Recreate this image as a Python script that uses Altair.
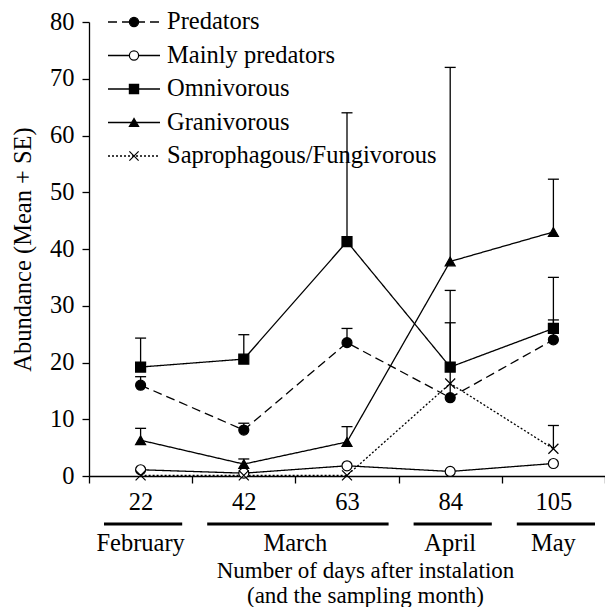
import json
import altair as alt
import pandas as pd

# ---------------- data ----------------
days = ["22", "42", "63", "84", "105"]
groups = ["Predators", "Mainly predators", "Omnivorous", "Granivorous",
          "Saprophagous/Fungivorous"]

predators = [16.0, 8.1, 23.5, 13.8, 24.0]
predators_top = [17.5, 9.3, 26.0, 27.0, 27.5]
mainly = [1.1, 0.5, 1.8, 0.8, 2.2]
mainly_top = [None, None, None, None, None]
omni = [19.2, 20.6, 41.3, 19.2, 26.0]
omni_top = [24.3, 24.9, 64.0, 32.7, 35.0]
grani = [6.3, 2.1, 6.0, 37.8, 43.0]
grani_top = [8.4, 3.0, 8.7, 72.0, 52.3]
sapro = [0.1, 0.1, 0.1, 16.3, 4.8]
sapro_top = [None, None, None, None, 8.9]

months = ["February", "March", "April", "May"]
month_first = ["22", "42", "84", "105"]
month_last = ["22", "63", "84", "105"]

y_ticks = [0, 10, 20, 30, 40, 50, 60, 70, 80]
x_title = ["Number of days after instalation", "(and the sampling month)"]
y_title = "Abundance (Mean + SE)"

# ---------------- tables ----------------
series = [predators, mainly, omni, grani, sapro]
tops = [predators_top, mainly_top, omni_top, grani_top, sapro_top]
rows, err_rows = [], []
for g, vals, tp in zip(groups, series, tops):
    for i, d in enumerate(days):
        rows.append({"group": g, "day": d, "idx": i + 1, "value": vals[i]})
        if tp[i] is not None:
            err_rows.append({"group": g, "idx": i + 1, "value": vals[i], "top": tp[i]})
df = pd.DataFrame(rows)
err = pd.DataFrame(err_rows)
leg = pd.DataFrame({"group": groups})
mon = pd.DataFrame({
    "month": months,
    "start": [days.index(a) + 0.5 for a in month_first],
    "end": [days.index(b) + 1.5 for b in month_last],
})
mon["mid"] = (mon["start"] + mon["end"]) / 2

# ---------------- style ----------------
FONT = "Liberation Serif, Times New Roman, DejaVu Serif, serif"
FS = 24.5
W, H = 516, 454
LW = 1.3

dash_scale = alt.Scale(domain=groups, range=[[9, 5], [1, 0], [1, 0], [1, 0], [2, 2]])
shape_scale = alt.Scale(domain=groups, range=["circle", "circle", "square", "triangle-up",
                                              "M-1,-1L1,1M-1,1L1,-1"])
fill_scale = alt.Scale(domain=groups, range=["black", "white", "black", "black", "black"])

xscale = alt.Scale(domain=[0.5, 5.5], nice=False, zero=False)
yscale = alt.Scale(domain=[0, 80], nice=False, zero=True)

label_expr = "(" + json.dumps(days) + ")[round(datum.value - 0.5)] || ''"

x_axis = alt.Axis(values=[0.5, 1.5, 2.5, 3.5, 4.5, 5.5], labelExpr=label_expr,
                  labelOffset=W / 10, labelFlush=False, labelOverlap=False,
                  tickSize=7, labelPadding=7, title=x_title,
                  titleX=276, titleY=101, titleBaseline="alphabetic",
                  titleFontSize=23, titleLineHeight=25, titleAnchor="middle")
y_axis = alt.Axis(values=y_ticks, tickSize=7, labelPadding=8, title=y_title,
                  titlePadding=14)


def X(field):
    return alt.X(field, scale=xscale, axis=x_axis)


err_rule = alt.Chart(err).mark_rule(color="black", strokeWidth=LW).encode(
    x=X("idx:Q"), y=alt.Y("value:Q", scale=yscale, axis=y_axis), y2="top:Q")
err_cap = alt.Chart(err).mark_tick(color="black", orient="horizontal", size=11,
                                   thickness=LW, opacity=1).encode(
    x=X("idx:Q"), y=alt.Y("top:Q", scale=yscale, axis=None))
lines = alt.Chart(df).mark_line(color="black", strokeWidth=LW).encode(
    x=X("idx:Q"), y=alt.Y("value:Q", scale=yscale, axis=None),
    detail="group:N",
    strokeDash=alt.StrokeDash("group:N", scale=dash_scale, legend=None))
points = alt.Chart(df).mark_point(filled=True, stroke="black", strokeWidth=1.2,
                                  opacity=1, size=100).encode(
    x=X("idx:Q"), y=alt.Y("value:Q", scale=yscale, axis=None),
    shape=alt.Shape("group:N", scale=shape_scale, legend=None),
    fill=alt.Fill("group:N", scale=fill_scale, legend=None))

# month labels under the axis
mon_rule = alt.Chart(mon).mark_rule(color="black", strokeWidth=3, xOffset=15,
                                    x2Offset=-10).encode(
    x=X("start:Q"), x2="end:Q", y=alt.value(502))
mon_text = alt.Chart(mon).mark_text(font=FONT, fontSize=FS, color="black",
                                    baseline="alphabetic").encode(
    x=X("mid:Q"), y=alt.value(529), text="month:N")

# legend
ly = alt.Y("group:N", sort=groups, axis=None,
           scale=alt.Scale(type="point", domain=groups, range=[0, 134], padding=0))
leg_rule = alt.Chart(leg).mark_rule(color="black", strokeWidth=LW).encode(
    x=alt.value(19), x2=alt.value(71), y=ly,
    strokeDash=alt.StrokeDash("group:N", scale=dash_scale, legend=None))
leg_pt = alt.Chart(leg).mark_point(filled=True, stroke="black", strokeWidth=1.2,
                                   opacity=1, size=85).encode(
    x=alt.value(45), y=ly,
    shape=alt.Shape("group:N", scale=shape_scale, legend=None),
    fill=alt.Fill("group:N", scale=fill_scale, legend=None))
leg_text = alt.Chart(leg).mark_text(font=FONT, fontSize=FS, color="black",
                                    align="left", baseline="middle").encode(
    x=alt.value(78), y=ly, text="group:N")

chart = alt.layer(
    err_rule, err_cap, lines, points, mon_rule, mon_text, leg_rule, leg_pt, leg_text
).resolve_scale(y="independent").properties(
    width=W, height=H,
    autosize=alt.AutoSizeParams(type="none"),
    padding={"left": 81, "top": 14, "right": 0, "bottom": 131},
).configure(font=FONT).configure_view(stroke=None).configure_axis(
    labelFont=FONT, titleFont=FONT, labelFontSize=FS, titleFontSize=FS,
    labelColor="black", titleColor="black", titleFontWeight="normal",
    domainColor="black", tickColor="black", domainWidth=LW, tickWidth=LW,
    grid=False,
)

chart.save("out.html", embed_options={"renderer": "svg", "actions": False})
